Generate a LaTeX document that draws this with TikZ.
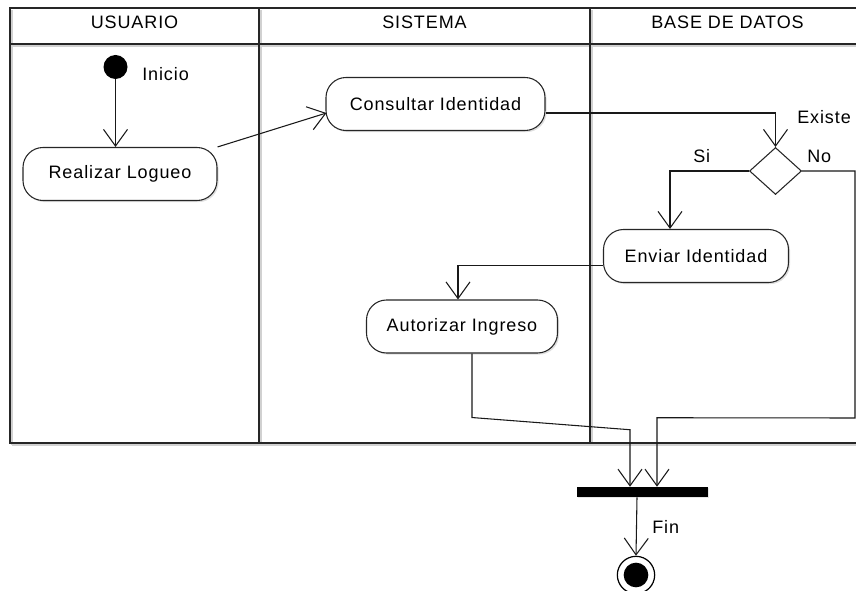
\documentclass[tikz,border=0pt]{standalone}
\usepackage{fontspec}
\setmainfont{Liberation Sans}[LetterSpace=5.0]
\usetikzlibrary{arrows.meta,shapes.geometric,shadows,calc}

\tikzset{
  lane/.style={line width=1.1pt, draw=black!85},
  laneshadow/.style={line width=1.1pt, draw=black!18},
  activity/.style={draw=black!85, line width=0.8pt, fill=white, rectangle,
    rounded corners=15pt, minimum height=39.75pt, inner sep=0pt,
    font=\fontsize{13.5}{15}\selectfont,
    drop shadow={opacity=0.25, shadow xshift=1.2pt, shadow yshift=-1.2pt}},
  decision/.style={draw=black!85, line width=0.8pt, fill=white, diamond,
    minimum width=39pt, minimum height=35.25pt, inner sep=0pt},
  syncbar/.style={fill=black, rectangle, minimum width=98.25pt,
    minimum height=7.5pt, inner sep=0pt,
    drop shadow={opacity=0.2, shadow xshift=1pt, shadow yshift=-1pt}},
  initial/.style={fill=black, circle, minimum size=18pt, inner sep=0pt},
  finalring/.style={draw=black, line width=0.9pt, fill=white, circle,
    minimum size=28pt, inner sep=0pt},
  flow/.style={draw=black!90, line width=0.8pt,
    -{Straight Barb[length=12.5pt, width=18pt]}},
  label/.style={font=\fontsize{13.5}{15}\selectfont, anchor=base west, inner sep=0pt},
  header/.style={font=\fontsize{13.5}{15}\selectfont, anchor=base, inner sep=0pt}
}

\begin{document}
\begin{tikzpicture}[x=0.75pt, y=-0.75pt]
  \useasboundingbox (0,0) rectangle (856,591);

  % swimlane frame, with its soft grey shadow
  \draw[laneshadow] (12,46) -- (856,46);
  \draw[laneshadow] (12,445) -- (856,445);
  \draw[laneshadow] (12,10) -- (12,445);
  \draw[laneshadow] (261,10) -- (261,445);
  \draw[laneshadow] (592,10) -- (592,445);
  \draw[lane] (856,8) -- (10,8) -- (10,443) -- (856,443);
  \draw[lane] (10,44) -- (856,44);
  \draw[lane] (259,8) -- (259,443);
  \draw[lane] (590,8) -- (590,443);

  % lane headers
  \node[header] (hUser) at (134.5,29) {USUARIO};
  \node[header] (hSys)  at (424.5,29) {SISTEMA};
  \node[header] (hDb)   at (727.5,29) {BASE DE DATOS};

  % activities
  \node[initial] (start) at (115.5,67) {};
  \node[label] (lStart) at (142,81) {Inicio};

  \node[activity, minimum width=145.5pt]  (real) at (120,174)    {Realizar Logueo};
  \node[activity, minimum width=164.25pt] (cons) at (435.5,104)  {Consultar Identidad};
  \node[decision] (dia) at (775.5,171) {};
  \node[activity, minimum width=138.75pt] (env)  at (696,256)    {Enviar Identidad};
  \node[activity, minimum width=143.25pt] (aut)  at (462,326.5)  {Autorizar Ingreso};

  \node[syncbar] (bar) at (642.5,492) {};
  \node[finalring] (stop) at (636,575) {};
  \node[fill=black, circle, minimum size=18.5pt, inner sep=0pt] (stopdot) at (stop.center) {};

  % guard labels
  \node[label] (lExiste) at (797,124) {Existe};
  \node[label] (lSi) at (693,163) {Si};
  \node[label] (lNo) at (807,163) {No};
  \node[label] (lFin) at (652,533) {Fin};

  % bends of the flows
  \coordinate (autDown) at ($(aut.south)+(10,64)$);
  \coordinate (autSlant) at ($(bar.north)+(-12.5,-57)$);
  \coordinate (noRight) at (855,171);
  \coordinate (noDown) at (855,418);
  \coordinate (noLeft) at ($(bar.north)+(14.5,-69)$);

  % control flows
  \draw[flow] (start) -- (real.north -| start);
  \draw[flow] (real.north east) -- ($(cons.west)+(1,9)$);
  \draw[flow] ($(cons.east)+(0,9)$) -| (dia.north);
  \draw[flow] (dia.west) -| ($(env.north)+(-26,0)$);
  \draw[flow] ($(env.west)+(0,9.5)$) -| ($(aut.north)+(-4,0)$);
  \draw[flow] ($(aut.south)+(10,0)$) -- (autDown) -- (autSlant) -- ($(bar.north)+(-12.5,0)$);
  \draw[flow] (dia.east) -- (noRight) -- (noDown) -- (noLeft) -- ($(bar.north)+(14.5,0)$);
  \draw[flow] ($(bar.south)+(-5.5,0)$) -- (stop.north);
\end{tikzpicture}
\end{document}
